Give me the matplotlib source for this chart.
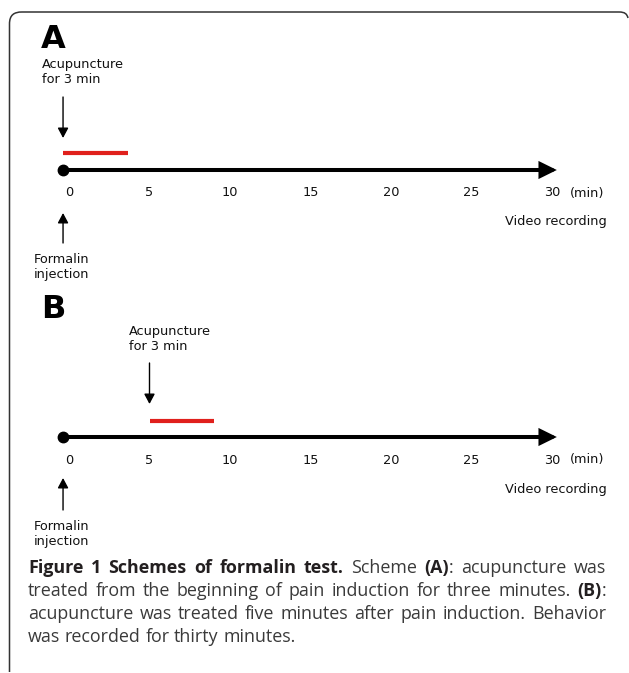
import matplotlib
matplotlib.use("Agg")
import matplotlib.pyplot as plt
from matplotlib.path import Path
from matplotlib.patches import PathPatch

# ---------------- data ----------------
tick_values = [0, 5, 10, 15, 20, 25, 30]
tick_labels = ["0", "5", "10", "15", "20", "25", "30"]
unit_label = "(min)"
timeline_start = -0.37   # minutes (dot position as drawn)
timeline_end = 30.3      # minutes (arrow tip)
panel_letters = ["A", "B"]
acu_start = [-0.37, 5.0]   # red bar start (minutes, as drawn)
acu_end = [3.66, 9.0]      # red bar end (minutes, as drawn)
acu_text = ["Acupuncture\nfor 3 min", "Acupuncture\nfor 3 min"]
formalin_text = "Formalin\ninjection"
video_text = "Video recording"

caption_lines = [
    [[("Figure", True)], [("1", True)], [("Schemes", True)], [("of", True)],
     [("formalin", True)], [("test.", True)], [("Scheme", False)],
     [("(A)", True), (":", False)], [("acupuncture", False)], [("was", False)]],
    [[(w, False)] for w in "treated from the beginning of pain induction for three minutes.".split()]
    + [[("(B)", True), (":", False)]],
    [[(w, False)] for w in "acupuncture was treated five minutes after pain induction. Behavior".split()],
    [[(w, False)] for w in "was recorded for thirty minutes.".split()],
]

# ---------------- figure ----------------
W, H = 629, 673
fig = plt.figure(figsize=(W / 100, H / 100), dpi=100)

axp = fig.add_axes([0, 0, 1, 1])
axp.set_xlim(0, W)
axp.set_ylim(H, 0)
axp.axis("off")

px0, pxs = 69.0, 16.1
axm = fig.add_axes([0, 0, 1, 1])
axm.set_xlim(-px0 / pxs, (W - px0) / pxs)
axm.set_ylim(H, 0)
axm.axis("off")
axm.patch.set_alpha(0)

# frame
verts = [(9.5, 672), (9.5, 24), (9.5, 15), (14, 12), (22, 12), (619, 12), (625, 12), (627, 14), (628, 18)]
codes = [Path.MOVETO, Path.LINETO, Path.CURVE4, Path.CURVE4, Path.CURVE4, Path.LINETO,
         Path.CURVE4, Path.CURVE4, Path.CURVE4]
axp.add_patch(PathPatch(Path(verts, codes), fill=False, edgecolor="#333333", lw=1.1))

txtfont = "DejaVu Sans"
fs_small = 9.3

panels = [
    dict(letter_y=40, acu_x=42, acu_y=72, arrow_top=97, arrow_bot=138, red_y=153, line_y=170,
         tick_y=193, up_tip=213, up_base=243, form_y=267, video_y=222),
    dict(letter_y=310, acu_x=129, acu_y=339, arrow_top=363, arrow_bot=404, red_y=421, line_y=437,
         tick_y=460, up_tip=478, up_base=510, form_y=534, video_y=489),
]

for i, p in enumerate(panels):
    axp.text(41, p["letter_y"], panel_letters[i], fontsize=23, fontweight="bold",
             family=txtfont, ha="left", va="center", color="black")
    axp.text(p["acu_x"], p["acu_y"], acu_text[i], fontsize=fs_small, family=txtfont,
             ha="left", va="center", linespacing=1.2, color="#111111")
    axm.annotate("", xy=(acu_start[i], p["arrow_bot"]), xytext=(acu_start[i], p["arrow_top"]),
                 arrowprops=dict(arrowstyle="-|>,head_length=0.6,head_width=0.32",
                                 lw=1.0, color="black", shrinkA=0, shrinkB=0,
                                 mutation_scale=10))
    axm.plot([acu_start[i], acu_end[i]], [p["red_y"], p["red_y"]], color="#e0201c",
             lw=3.0, solid_capstyle="butt")
    axm.annotate("", xy=(timeline_end, p["line_y"]), xytext=(timeline_start, p["line_y"]),
                 arrowprops=dict(arrowstyle="-|>,head_length=0.85,head_width=0.42",
                                 lw=2.9, color="black", shrinkA=0, shrinkB=0,
                                 mutation_scale=10, joinstyle="miter"))
    axm.plot([timeline_start], [p["line_y"]], "o", color="black", markersize=7.5)
    for v, lab in zip(tick_values, tick_labels):
        axm.text(v, p["tick_y"], lab, fontsize=fs_small, family=txtfont,
                 ha="center", va="center", color="#111111")
    axp.text(587, p["tick_y"], unit_label, fontsize=fs_small, family=txtfont,
             ha="center", va="center", color="#111111")
    axm.annotate("", xy=(timeline_start, p["up_tip"]), xytext=(timeline_start, p["up_base"]),
                 arrowprops=dict(arrowstyle="-|>,head_length=0.6,head_width=0.32",
                                 lw=1.0, color="black", shrinkA=0, shrinkB=0,
                                 mutation_scale=10))
    axp.text(34, p["form_y"], formalin_text, fontsize=fs_small, family=txtfont,
             ha="left", va="center", linespacing=1.2, color="#111111")
    axp.text(607, p["video_y"], video_text, fontsize=fs_small, family=txtfont,
             ha="right", va="center", color="#111111")

# caption (justified)
cap_left, cap_right = 28, 606
baselines = [573, 596, 619, 642]
renderer = fig.canvas.get_renderer()
CAPFONT = "Open Sans"

def seg_width(s, bold, fs):
    t = axp.text(0, 0, s, fontsize=fs, family=CAPFONT,
                 fontweight="bold" if bold else "normal")
    w = t.get_window_extent(renderer).width
    t.remove()
    return w

def natural_width(words, fs):
    sp = seg_width("a a", False, fs) - seg_width("aa", False, fs)
    return sum(sum(seg_width(s, b, fs) for s, b in w) for w in words) + sp * (len(words) - 1)

cap_fs = 11.0
longest = max(natural_width(w, cap_fs) for w in caption_lines[:-1])
cap_fs = cap_fs * (cap_right - cap_left) * 0.985 / longest

space_w = seg_width("a a", False, cap_fs) - seg_width("aa", False, cap_fs)

for li, words in enumerate(caption_lines):
    widths = [sum(seg_width(s, b, cap_fs) for s, b in w) for w in words]
    total = sum(widths)
    last = li == len(caption_lines) - 1
    if last or len(words) < 2:
        gap = space_w
    else:
        gap = (cap_right - cap_left - total) / (len(words) - 1)
    x = cap_left
    for w, wd in zip(words, widths):
        xx = x
        for s, b in w:
            axp.text(xx, baselines[li], s, fontsize=cap_fs, family=CAPFONT,
                     fontweight="bold" if b else "normal", ha="left", va="baseline",
                     color="#231f20" if b else "#3a3a3a")
            xx += seg_width(s, b, cap_fs)
        x += wd + gap

fig.savefig("out.png", dpi=100)
